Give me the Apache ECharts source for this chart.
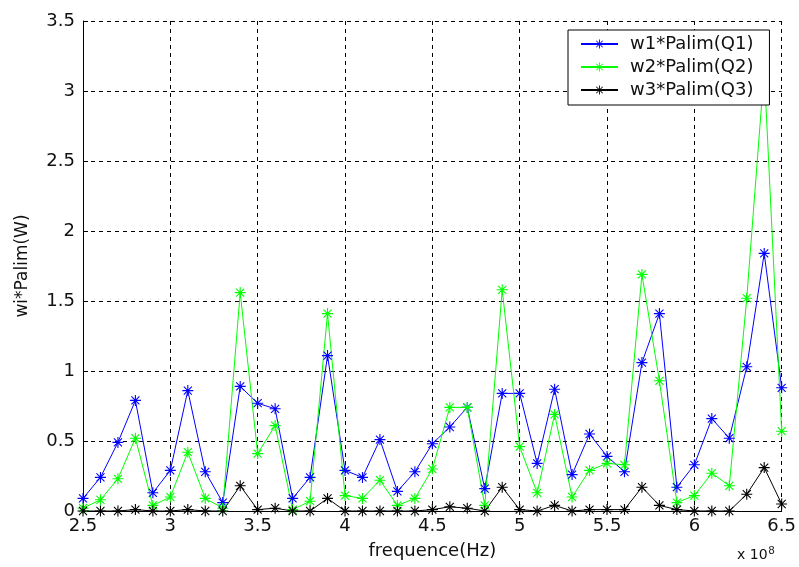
<!DOCTYPE html>
<html>
<head>
<meta charset="utf-8">
<script src="https://cdn.jsdelivr.net/npm/echarts@6/dist/echarts.min.js"></script>
<style>
  html, body { margin: 0; padding: 0; background: #fff; }
  #chart { width: 799px; height: 567px; }
</style>
</head>
<body>
<div id="chart"></div>
<script>
// 频率 (x 10^8 Hz)
const freq = [2.5, 2.6, 2.7, 2.8, 2.9, 3.0, 3.1, 3.2, 3.3, 3.4,
              3.5, 3.6, 3.7, 3.8, 3.9, 4.0, 4.1, 4.2, 4.3, 4.4,
              4.5, 4.6, 4.7, 4.8, 4.9, 5.0, 5.1, 5.2, 5.3, 5.4,
              5.5, 5.6, 5.7, 5.8, 5.9, 6.0, 6.1, 6.2, 6.3, 6.4, 6.5];
// w1*Palim(Q1)
const q1 = [0.09, 0.24, 0.49, 0.79, 0.13, 0.29, 0.86, 0.28, 0.06, 0.89,
            0.77, 0.73, 0.09, 0.24, 1.11, 0.29, 0.24, 0.51, 0.14, 0.28,
            0.48, 0.60, 0.74, 0.16, 0.84, 0.84, 0.34, 0.87, 0.26, 0.55,
            0.39, 0.28, 1.06, 1.41, 0.17, 0.33, 0.66, 0.52, 1.03, 1.84, 0.88];
// w2*Palim(Q2)
const q2 = [0.02, 0.08, 0.23, 0.52, 0.04, 0.10, 0.42, 0.09, 0.02, 1.56,
            0.41, 0.61, 0.01, 0.07, 1.41, 0.11, 0.09, 0.22, 0.04, 0.09,
            0.30, 0.74, 0.74, 0.04, 1.58, 0.46, 0.13, 0.69, 0.10, 0.29,
            0.34, 0.33, 1.69, 0.93, 0.06, 0.11, 0.27, 0.18, 1.52, 3.15, 0.57];
// w3*Palim(Q3)
const q3 = [0.00, 0.00, 0.00, 0.01, 0.00, 0.00, 0.01, 0.00, 0.00, 0.18,
            0.01, 0.02, 0.00, 0.00, 0.09, 0.00, 0.00, 0.00, 0.00, 0.00,
            0.01, 0.03, 0.02, 0.00, 0.17, 0.01, 0.00, 0.04, 0.00, 0.01,
            0.01, 0.01, 0.17, 0.04, 0.01, 0.00, 0.00, 0.00, 0.12, 0.31, 0.05];
const seriesNames = ['w1*Palim(Q1)', 'w2*Palim(Q2)', 'w3*Palim(Q3)'];
const seriesColors = ['#0000ff', '#00ff00', '#000000'];

// 星号标记 (MATLAB '*')
const starPath = 'path://M0,4.5H10V5.5H0Z M4.5,0H5.5V10H4.5Z M1,1.7L1.7,1L9,8.3L8.3,9Z M1.7,9L1,8.3L8.3,1L9,1.7Z';
const font = '"DejaVu Sans", sans-serif';

let pairs = (ys) => freq.map((f, i) => [f, ys[i]]);

let myChart = echarts.init(document.getElementById('chart'));
let option = {
  animation: false,
  backgroundColor: '#fff',
  textStyle: { fontFamily: font, color: '#000' },
  grid: { left: 83, right: 14, top: 21, bottom: 56 },
  legend: {
    data: seriesNames,
    orient: 'vertical',
    left: 568,
    top: 30,
    padding: [4, 16, 5, 12],
    itemWidth: 37,
    itemHeight: 11,
    itemGap: 3,
    backgroundColor: '#fff',
    borderColor: '#000',
    borderWidth: 1,
    borderRadius: 0,
    textStyle: { fontFamily: font, fontSize: 18, color: '#111', lineHeight: 20, padding: [0, 0, 0, 7] }
  },
  xAxis: {
    type: 'value',
    min: 2.5,
    max: 6.5,
    interval: 0.5,
    name: 'frequence(Hz)',
    nameLocation: 'middle',
    nameGap: 31,
    nameTextStyle: { fontFamily: font, fontSize: 18, color: '#111' },
    axisLine: { lineStyle: { color: '#000', width: 1 } },
    axisTick: { inside: true, length: 5, lineStyle: { color: '#000' } },
    axisLabel: { fontFamily: font, fontSize: 18, color: '#111', margin: 6 },
    splitLine: { show: true, lineStyle: { color: '#000', type: [4, 4], width: 1 } }
  },
  yAxis: {
    type: 'value',
    min: 0,
    max: 3.5,
    interval: 0.5,
    name: 'wi*Palim(W)',
    nameLocation: 'middle',
    nameGap: 52,
    nameTextStyle: { fontFamily: font, fontSize: 17, color: '#111' },
    axisLine: { show: true, lineStyle: { color: '#000', width: 1 } },
    axisTick: { show: true, inside: true, length: 5, lineStyle: { color: '#000' } },
    axisLabel: { fontFamily: font, fontSize: 18, color: '#111', margin: 8 },
    splitLine: { show: true, lineStyle: { color: '#000', type: [4, 4], width: 1 } }
  },
  graphic: [
    {
      type: 'text',
      left: 737,
      top: 545,
      style: {
        text: 'x 10{s|8}',
        fontFamily: font,
        fontSize: 14,
        fill: '#111',
        rich: { s: { fontSize: 11, verticalAlign: 'top', padding: [0, 0, 10, 1] } }
      }
    }
  ],
  series: [q1, q2, q3].map((ys, k) => ({
    name: seriesNames[k],
    type: 'line',
    data: pairs(ys),
    symbol: starPath,
    symbolSize: 11,
    showAllSymbol: true,
    lineStyle: { color: seriesColors[k], width: 1 },
    itemStyle: { color: seriesColors[k] },
    emphasis: { disabled: true }
  }))
};
myChart.setOption(option);
</script>
</body>
</html>
